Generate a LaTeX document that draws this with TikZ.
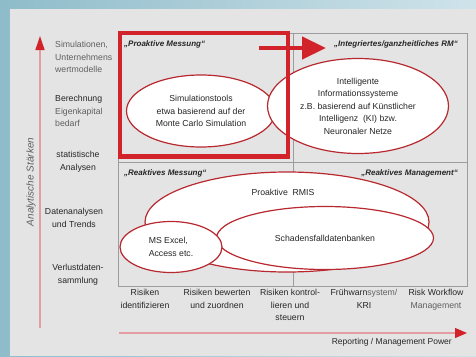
\documentclass[tikz,border=0pt]{standalone}
\usepackage{fontspec}
\setmainfont{Liberation Sans}
\usepackage{tikz}
\usetikzlibrary{shapes.geometric}
\usetikzlibrary{calc}
\usetikzlibrary{positioning}
\usetikzlibrary{arrows.meta}
\definecolor{rmred}{HTML}{D2232A}
\definecolor{ellred}{HTML}{B8282F}
\definecolor{axisred}{HTML}{E49CA0}
\definecolor{panelgray}{HTML}{E4E4E4}
\definecolor{gridgray}{HTML}{9C9C9C}
\definecolor{txtdark}{HTML}{262626}
\definecolor{txtgray}{HTML}{606060}
\definecolor{bgleft}{HTML}{8FBCCA}
\definecolor{bgright}{HTML}{CFE3EA}
\tikzset{every node/.style={font=\fontsize{8.7}{12.5}\selectfont,text=txtdark,inner sep=0pt}}
\tikzset{ellbox/.style={shape=ellipse,draw=ellred,fill=white,line width=1.2pt,align=center}}
\tikzset{quadlbl/.style={font=\fontsize{8}{10}\selectfont\bfseries\itshape}}
\tikzset{axisline/.style={draw=axisred,line width=1.3pt}}

\begin{document}
\begin{tikzpicture}[x=1pt,y=-1pt]
		\useasboundingbox (0,0) rectangle (476,356);
		\shade[left color=bgleft,right color=bgright] (0,0) rectangle (476,356);
		\fill[panelgray] (10,9) rectangle (476,356);
		% grid
		\draw[gridgray,line width=0.9pt] (118,33) rectangle (467,286);
		\draw[gridgray,line width=0.9pt] (118,162) -- (467,162);
		\draw[gridgray,line width=0.9pt] (293,33) -- (293,286);
		% left axis
		\coordinate (ybot) at (40,328);
		\coordinate (ytop) at (40,36);
		\draw[axisline,-{Triangle[color=rmred,length=14pt,width=9pt]}] (ybot) -- (ytop);
		\node[rotate=90,font=\fontsize{10}{12}\selectfont\itshape,text=txtgray] (ylabel) at (31,182) {Analytische Stärken};
		\node[anchor=north west,align=left,text=txtgray] (simlbl) at (55,41) {Simulationen,\\Unternehmens\\wertmodelle};
		\node[anchor=north west,align=left,text=txtgray] (berlbl) at (55,95) {\textcolor{txtdark}{Berechnung}\\Eigenkapital\\bedarf};
		\node[anchor=north,align=center] (statlbl) at (78,151) {statistische\\Analysen};
		\node[anchor=north,align=center] (datlbl) at (74,208) {Datenanalysen\\und Trends};
		\node[anchor=north,align=center] (verlbl) at (78,264) {Verlustdaten-\\sammlung};
		% bottom axis
		\coordinate (xleft) at (119,333);
		\coordinate (xright) at (467,333);
		\draw[axisline,-{Triangle[color=rmred,length=12pt,width=10pt]}] (xleft) -- (xright);
		\node[anchor=east,font=\fontsize{8.5}{10}\selectfont] (xlabel) at (452,342) {Reporting / Management Power};
		\node[anchor=north,align=center] (risk1) at (145,289) {Risiken\\identifizieren};
		\node[anchor=north,align=center] (risk2) at (217,289) {Risiken bewerten\\und zuordnen};
		\node[anchor=north,align=center] (risk3) at (290,289) {Risiken kontrol-\\lieren und\\steuern};
		\node[anchor=north,align=center] (risk4) at (364,289) {Frühwarn\textcolor{txtgray}{system/}\\KRI};
		\node[anchor=north,align=center] (risk5) at (436,289) {Risk Workflow\\\textcolor{txtgray}{Management}};
		% ellipses
		\node[ellbox,minimum width=149pt,minimum height=72pt] (simtools) at (201,111) {Simulationstools\\etwa basierend auf der\\Monte Carlo Simulation};
		\node[ellbox,minimum width=181pt,minimum height=95pt] (intsys) at (358,106) {Intelligente\\Informationssysteme\\z.B. basierend auf Künstlicher\\Intelligenz\ \ (KI) bzw.\\Neuronaler Netze};
		\node[ellbox,minimum width=284pt,minimum height=100pt] (rmis) at (287,222) {};
		\node (rmistext) at (283,192) {Proaktive\ \ RMIS};
		\node[ellbox,minimum width=217pt,minimum height=63pt] (schaden) at (325,238) {Schadensfalldatenbanken};
		\node[ellbox,align=left,minimum width=102pt,minimum height=51pt] (excel) at (171,247) {MS Excel,\\Access etc.};
		% proaktive box and arrow
		\draw[rmred,line width=4.5pt] (120,33) rectangle (288,156.5);
		\coordinate (arrstart) at (259,48);
		\coordinate (arrend) at (326,48);
		\draw[rmred,line width=4.5pt,-{Triangle[length=24pt,width=22pt]}] (arrstart) -- (arrend);
		% quadrant titles
		\node[quadlbl,anchor=west] (q1) at (124,44) {„Proaktive Messung“};
		\node[quadlbl,anchor=east] (q2) at (458,44) {„Integriertes/ganzheitliches RM“};
		\node[quadlbl,anchor=west] (q3) at (124,173) {„Reaktives Messung“};
		\node[quadlbl,anchor=east] (q4) at (458,173) {„Reaktives Management“};
\end{tikzpicture}
\end{document}
